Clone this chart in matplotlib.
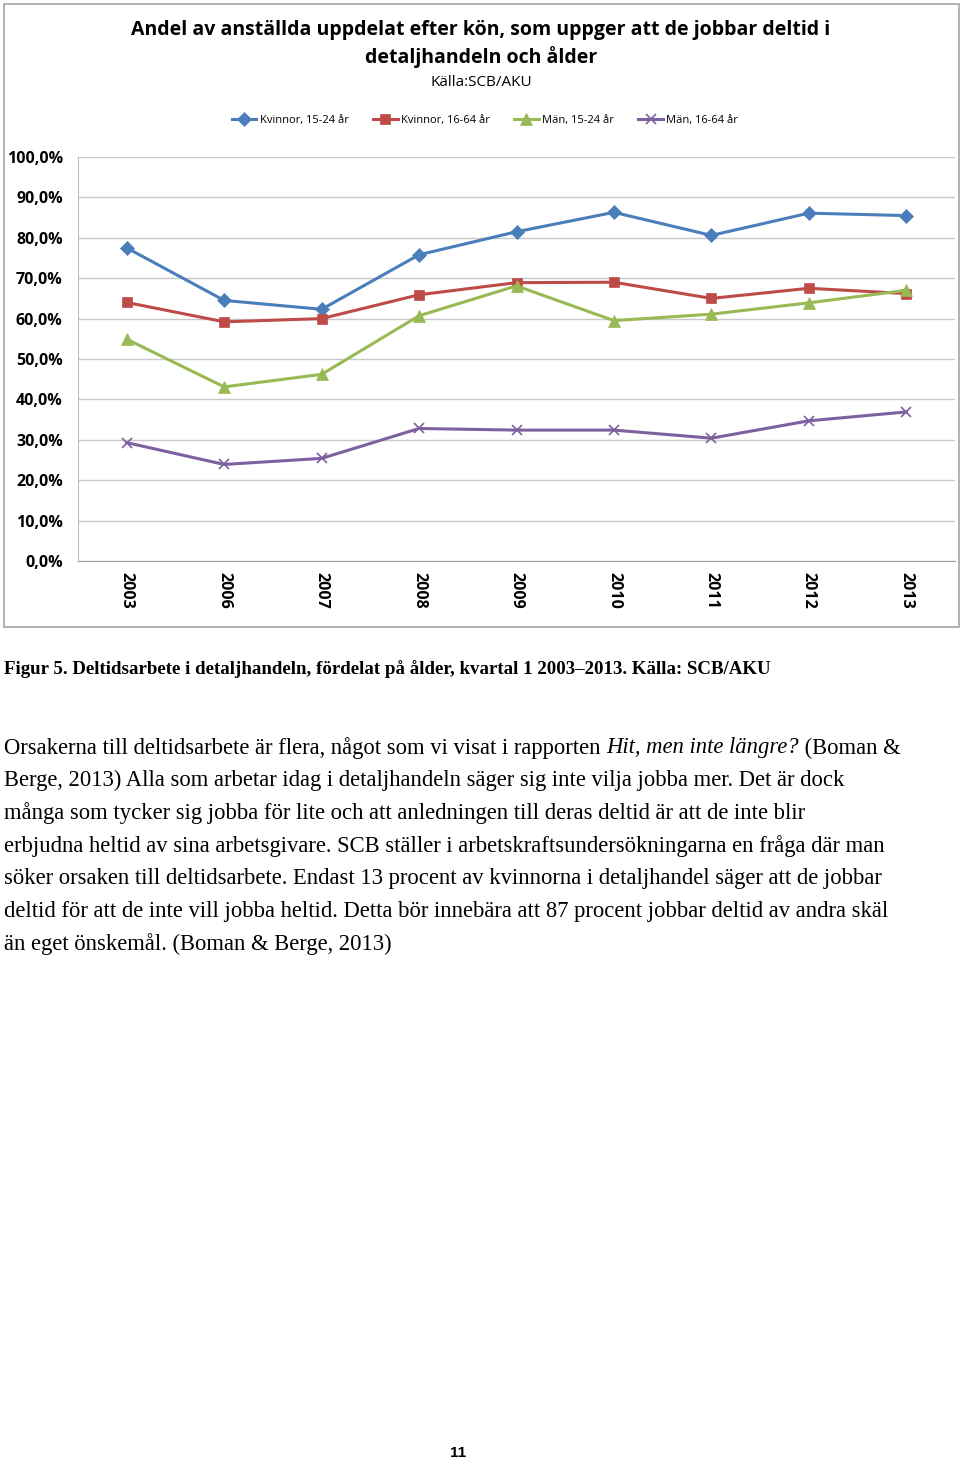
import matplotlib.pyplot as plt
from matplotlib.patches import Rectangle
import numpy as np

years = ['2003', '2006', '2007', '2008', '2009', '2010', '2011', '2012', '2013']
kvinnor_15_24 = [77.5, 64.5, 62.3, 75.8, 81.5, 86.3, 80.6, 86.1, 85.5]
kvinnor_16_64 = [64.0, 59.2, 60.0, 65.9, 68.9, 69.0, 65.0, 67.5, 66.2]
man_15_24 = [54.9, 43.1, 46.2, 60.7, 68.1, 59.5, 61.1, 63.9, 67.0]
man_16_64 = [29.3, 23.9, 25.4, 32.8, 32.4, 32.4, 30.4, 34.7, 36.9]

series_names = ['Kvinnor, 15-24 år', 'Kvinnor, 16-64 år', 'Män, 15-24 år', 'Män, 16-64 år']
y_ticks = [0, 10, 20, 30, 40, 50, 60, 70, 80, 90, 100]

title = 'Andel av anställda uppdelat efter kön, som uppger att de jobbar deltid i\ndetaljhandeln och ålder'
source = 'Källa:SCB/AKU'
caption = 'Figur 5. Deltidsarbete i detaljhandeln, fördelat på ålder, kvartal 1 2003–2013. Källa: SCB/AKU'
body_lines = [
    ('Orsakerna till deltidsarbete är flera, något som vi visat i rapporten ', 'Hit, men inte längre?', ' (Boman &'),
    ('Berge, 2013) Alla som arbetar idag i detaljhandeln säger sig inte vilja jobba mer. Det är dock', '', ''),
    ('många som tycker sig jobba för lite och att anledningen till deras deltid är att de inte blir', '', ''),
    ('erbjudna heltid av sina arbetsgivare. SCB ställer i arbetskraftsundersökningarna en fråga där man', '', ''),
    ('söker orsaken till deltidsarbete. Endast 13 procent av kvinnorna i detaljhandel säger att de jobbar', '', ''),
    ('deltid för att de inte vill jobba heltid. Detta bör innebära att 87 procent jobbar deltid av andra skäl', '', ''),
    ('än eget önskemål. (Boman & Berge, 2013)', '', ''),
]
page_number = '11'

W, H = 960, 1461
fig = plt.figure(figsize=(W / 100, H / 100), dpi=100)

def fx(px):
    return px / W

def fy(py):
    return 1 - py / H

# chart frame
fig.patches.append(Rectangle((fx(4), fy(627)), fx(955), 623 / H, transform=fig.transFigure,
                             fill=False, edgecolor='#A6A6A6', linewidth=1.2))

ax = fig.add_axes([fx(78), fy(561), fx(877), 404 / H])
x = np.arange(len(years))
styles = [('#4A7EBB', 'D', 7), ('#BE4B48', 's', 7.5), ('#98B954', '^', 8), ('#7D60A0', 'x', 7)]
for vals, name, (c, m, ms) in zip([kvinnor_15_24, kvinnor_16_64, man_15_24, man_16_64], series_names, styles):
    ax.plot(x, vals, color=c, marker=m, markersize=ms, linewidth=2.2, label=name,
            markeredgewidth=1.2 if m == 'x' else 0.5)

ax.set_xlim(-0.5, len(years) - 0.5)
ax.set_ylim(0, 100)
ax.set_yticks(y_ticks)
ax.set_yticklabels([f'{v:.1f}%'.replace('.', ',') for v in y_ticks], fontweight='bold',
                   fontsize=11.5, family='Open Sans')
ax.set_xticks(x)
ax.set_xticklabels(years, rotation=270, fontweight='bold', fontsize=11.5, family='Open Sans')
ax.tick_params(axis='both', length=0, pad=8)
ax.tick_params(axis='y', pad=11)
ax.grid(axis='y', color='#C8C8C8', linewidth=1)
ax.set_axisbelow(True)
for s in ['top', 'right']:
    ax.spines[s].set_visible(False)
ax.spines['left'].set_color('#BFBFBF')
ax.spines['bottom'].set_color('#A0A0A0')

fig.text(fx(481), fy(44), title, ha='center', va='center', fontsize=14, fontweight='bold',
         family='Open Sans', linespacing=1.4)
fig.text(fx(481), fy(83), source, ha='center', va='center', fontsize=11, family='Open Sans')
fig.legend(loc='center', bbox_to_anchor=(fx(485), fy(120)), ncol=4, frameon=False,
           prop={'family': 'Open Sans', 'size': 8}, handlelength=2.2, columnspacing=2.2,
           handletextpad=0.3)

fig.text(fx(4), fy(669), caption, ha='left', va='center', fontsize=13.6, fontweight='bold',
         family='Liberation Serif')

fig.canvas.draw()
renderer = fig.canvas.get_renderer()
fs = 16.3
for i, (a, b, c) in enumerate(body_lines):
    y = fy(748 + i * 32.6)
    t = fig.text(fx(4), y, a, ha='left', va='center', fontsize=fs, family='Liberation Serif')
    if b:
        bb = t.get_window_extent(renderer)
        t2 = fig.text(bb.x1 / W, y, b, ha='left', va='center', fontsize=fs,
                      family='Liberation Serif', style='italic')
        bb2 = t2.get_window_extent(renderer)
        fig.text(bb2.x1 / W, y, c, ha='left', va='center', fontsize=fs, family='Liberation Serif')

fig.text(fx(458), fy(1453), page_number, ha='center', va='center', fontsize=11,
         fontweight='bold', family='Liberation Sans')

fig.savefig('out.png', dpi=100)
